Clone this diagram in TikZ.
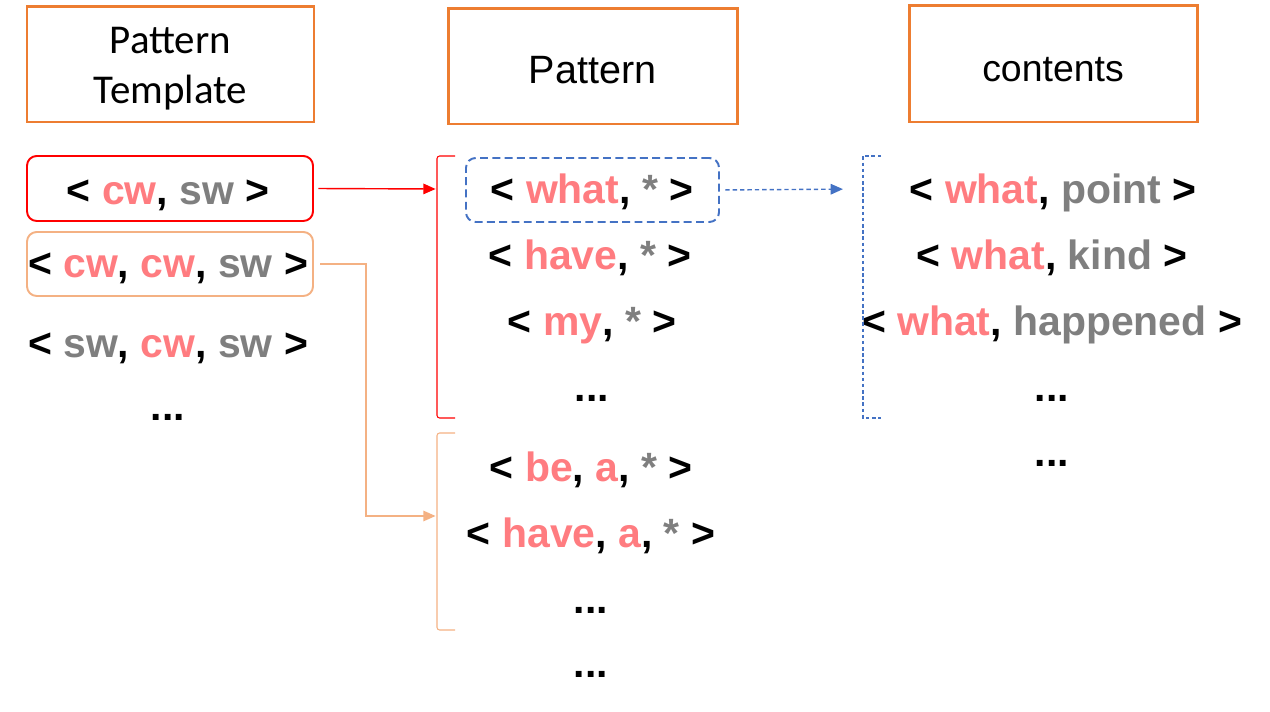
\documentclass[tikz,border=0pt]{standalone}
\usepackage{fontspec}
\setmainfont{Liberation Sans}
\newfontfamily\calib{Carlito}
\usetikzlibrary{arrows.meta}
\definecolor{pinkc}{HTML}{FF7C80}
\definecolor{grayc}{HTML}{7F7F7F}
\definecolor{orangeb}{HTML}{ED7D31}
\definecolor{lorange}{HTML}{F4B183}
\definecolor{blueb}{HTML}{4472C4}
\definecolor{redc}{HTML}{FF0000}
\newcommand{\pk}[1]{\textcolor{pinkc}{#1}}
\newcommand{\gr}[1]{\textcolor{grayc}{#1}}
\tikzset{
  header/.style={draw=orangeb, line width=1.7pt, inner sep=0pt},
  htext/.style={inner sep=0pt, align=center},
  item/.style={anchor=base, inner sep=0pt, font=\fontsize{23.3}{28}\selectfont\bfseries},
  selbox/.style={rounded corners=5.5pt, inner sep=0pt},
  tip/.style={-{Triangle[length=7pt,width=6pt]}},
}
\begin{document}
\begin{tikzpicture}[x=0.02cm, y=-0.02cm]
\useasboundingbox (0,0) rectangle (1270,712);
% headers
\node[header, minimum width=287*0.02cm, minimum height=115*0.02cm] (h1) at (170.5,64.5) {};
\node[header, minimum width=289*0.02cm, minimum height=115*0.02cm] (h2) at (592.5,66.5) {};
\node[header, minimum width=288*0.02cm, minimum height=116*0.02cm] (h3) at (1053,64) {};
\node[htext, font=\calib\fontsize{23.3}{28.5}\selectfont] (h1t) at ([yshift=-4*0.02cm]h1.center) {Pattern\\Template};
\node[htext, font=\fontsize{22.5}{27}\selectfont] (h2t) at ([yshift=-4*0.02cm]h2.center) {Pattern};
\node[htext, font=\fontsize{21.3}{26}\selectfont] (h3t) at ([yshift=-6*0.02cm]h3.center) {contents};

% left column
\node[selbox, draw=redc, line width=1.1pt, minimum width=286*0.02cm, minimum height=65*0.02cm] (rbox) at (170,188.5) {};
\node[selbox, draw=lorange, line width=1.1pt, minimum width=286*0.02cm, minimum height=64*0.02cm] (obox) at (170,264) {};
\node[item] (l1) at (168,205) {< \pk{cw}, \gr{sw} >};
\node[item] (l2) at (168,278) {< \pk{cw}, \pk{cw}, \gr{sw} >};
\node[item] (l3) at (168,358) {< \gr{sw}, \pk{cw}, \gr{sw} >};
\node[item] (l4) at (168,420) {...};

% middle column
\node[selbox, draw=blueb, line width=1.1pt, dashed, dash pattern=on 4.5pt off 2.5pt,
  minimum width=253*0.02cm, minimum height=64*0.02cm] (dbox) at (592.5,190) {};
\node[item] (m1) at (592,204) {< \pk{what}, \gr{*} >};
\node[item] (m2) at (590,270) {< \pk{have}, \gr{*} >};
\node[item] (m3) at (592,336) {< \pk{my}, \gr{*} >};
\node[item] (m4) at (592,401) {...};
\node[item] (m5) at (591,481) {< \pk{be}, \pk{a}, \gr{*} >};
\node[item] (m6) at (591,547) {< \pk{have}, \pk{a}, \gr{*} >};
\node[item] (m7) at (591,613) {...};
\node[item] (m8) at (591,677) {...};

% right column
\node[item] (r1) at (1053,204) {< \pk{what}, \gr{point} >};
\node[item] (r2) at (1052,270) {< \pk{what}, \gr{kind} >};
\node[item] (r3) at (1052,336) {< \pk{what}, \gr{happened} >};
\node[item] (r4) at (1052,401) {...};
\node[item] (r5) at (1052,466) {...};

% brackets
\coordinate (rbm) at (437,189);
\coordinate (obm) at (437,516);
\coordinate (bbm) at (863,189);
\draw[redc, line width=0.6pt, rounded corners=1.5pt] (455,156) -- (437,156) -- (437,418) -- (455,418);
\draw[lorange, line width=0.6pt, rounded corners=1.5pt] (455,433) -- (437,433) -- (437,630) -- (455,630);
\draw[blueb, line width=0.6pt, dash pattern=on 2pt off 1.5pt] (881,156) -- (863,156) -- (863,418) -- (881,418);

% connectors
\draw[redc, line width=0.8pt, tip, shorten <=2.5pt, shorten >=0.8pt] (rbox.east) -- (rbm);
\draw[lorange, line width=0.8pt, tip, shorten >=0.8pt] ([xshift=3.5pt]obox.east) -- ++(46,0) |- (obm);
\draw[blueb, line width=0.8pt, tip, dash pattern=on 2.5pt off 1.7pt, shorten <=3pt, shorten >=11.4pt] (dbox.east) -- (bbm);
\end{tikzpicture}
\end{document}
